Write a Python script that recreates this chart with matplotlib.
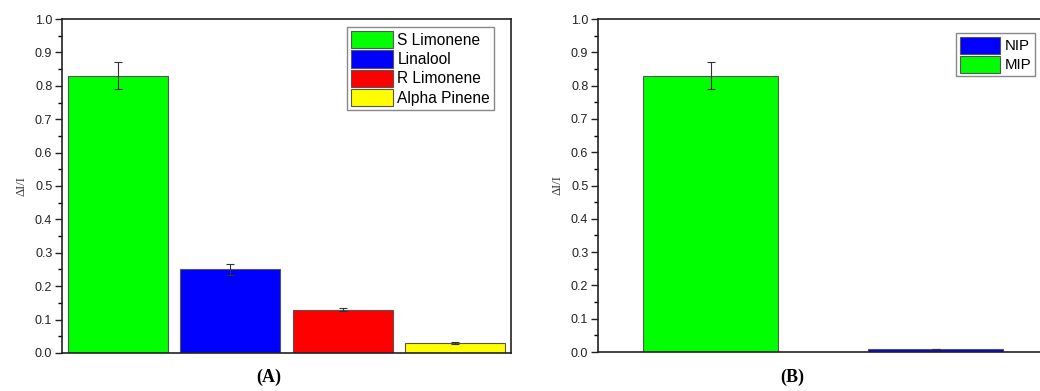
import numpy as np
import matplotlib
matplotlib.use('Agg')
import matplotlib.pyplot as plt
from matplotlib.ticker import MultipleLocator

plt.rcParams['font.family'] = ['Liberation Sans', 'DejaVu Sans']

# panel A data
names_a = ['S Limonene', 'Linalool', 'R Limonene', 'Alpha Pinene']
vals_a = [0.83, 0.25, 0.13, 0.03]
err_a = [0.04, 0.015, 0.005, 0.002]
cols_a = ['#00ff00', '#0000ff', '#ff0000', '#ffff00']

# panel B data
names_b = ['MIP', 'NIP']
vals_b = [0.83, 0.008]
err_b = [0.04, 0.0]
cols_b = ['#00ff00', '#0000ff']

fig = plt.figure(figsize=(10.4, 3.91), dpi=100)
axA = fig.add_axes([0.0596, 0.0972, 0.4317, 0.8542])
axB = fig.add_axes([0.575, 0.0997, 0.4327, 0.8517])

def style(ax):
    ax.set_ylim(0, 1.0)
    ax.yaxis.set_major_locator(MultipleLocator(0.1))
    ax.yaxis.set_minor_locator(MultipleLocator(0.05))
    ax.set_xticks([])
    ax.tick_params(axis='y', which='major', direction='out', length=5, width=1,
                   labelsize=9, colors='#222222', pad=2)
    ax.tick_params(axis='y', which='minor', direction='out', length=3, width=1)
    for s in ax.spines.values():
        s.set_color('#222222')
        s.set_linewidth(1.2)
    ax.set_ylabel('ΔI/I', family=['Liberation Serif', 'DejaVu Serif'], fontsize=9,
                  color='#333333', labelpad=5)

leg_kw = dict(fancybox=False, edgecolor='#888888', framealpha=1, borderpad=0.25,
              labelspacing=0.12, handlelength=2.7, handleheight=1.35, handletextpad=0.3,
              borderaxespad=0.0)

# (A)
xa = np.arange(len(vals_a))
bars_a = axA.bar(xa, vals_a, width=0.89, color=cols_a, edgecolor='#555555', linewidth=0.8,
                 yerr=err_a, error_kw=dict(ecolor='#333333', elinewidth=0.8, capsize=3, capthick=0.8))
axA.set_xlim(-0.5, 3.5)
style(axA)
axA.legend(bars_a, names_a, loc='upper right', bbox_to_anchor=(0.962, 0.976),
           fontsize=11.2, **leg_kw)
fig.text(0.258, 0.035, '(A)', ha='center', va='center', fontsize=13, fontweight='bold',
         family=['Liberation Serif', 'DejaVu Serif'])

# (B)
xb = np.arange(len(vals_b))
bars_b = axB.bar(xb, vals_b, width=0.6, color=cols_b, edgecolor='#555555', linewidth=0.8,
                 yerr=err_b, error_kw=dict(ecolor='#333333', elinewidth=0.8, capsize=3, capthick=0.8))
axB.set_xlim(-0.5, 1.5)
style(axB)
axB.legend([bars_b[1], bars_b[0]], [names_b[1], names_b[0]], loc='upper right',
           bbox_to_anchor=(0.971, 0.957), fontsize=10.8, **leg_kw)
fig.text(0.762, 0.035, '(B)', ha='center', va='center', fontsize=13, fontweight='bold',
         family=['Liberation Serif', 'DejaVu Serif'])

fig.savefig('out.png', dpi=100)
